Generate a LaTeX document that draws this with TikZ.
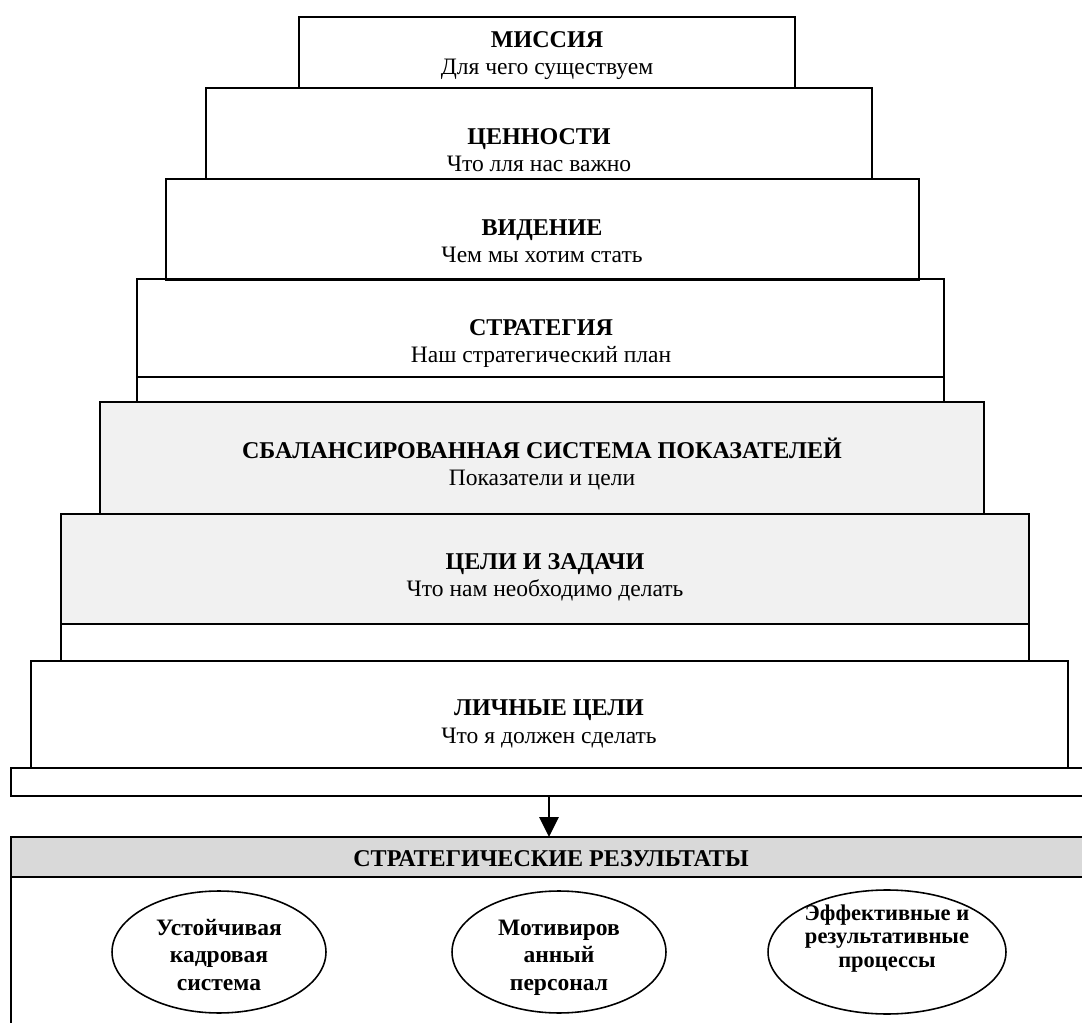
\documentclass[tikz,border=0pt]{standalone}
\usepackage{fontspec}
\setmainfont{Liberation Serif}
\usetikzlibrary{positioning,arrows.meta,shapes.geometric}
\definecolor{tiergray}{HTML}{F1F1F1}
\definecolor{headgray}{HTML}{D9D9D9}
\newcommand{\tiertitle}[1]{{\bfseries\fontsize{13.7}{15.4}\selectfont #1}}

\tikzset{
  tier/.style={draw, line width=1pt, anchor=north west, inner sep=0pt, outer sep=0pt},
  caption/.style={anchor=base, align=center, font=\fontsize{13.4}{15.4}\selectfont},
  result/.style={draw, ellipse, line width=0.9pt, inner sep=0pt},
  resulttxt/.style={anchor=base, align=center, font=\bfseries\fontsize{13.4}{15.4}\selectfont},
}

\begin{document}
\begin{tikzpicture}[x=0.02cm, y=-0.02cm]
    \clip (0,0) rectangle (1082,1023);

    % pyramid
    \node[tier, minimum width=9.92cm, minimum height=1.42cm] (mission) at (299,17) {};
    \node[tier, minimum width=13.32cm, minimum height=1.82cm] (values) at (206,88) {};
    \node[tier, minimum width=15.06cm, minimum height=2.02cm] (vision) at (166,179) {};
    \node[tier, minimum width=16.14cm, minimum height=1.96cm] (strategy) at (137,279) {};
    \node[tier, minimum width=16.14cm, minimum height=0.50cm] (stratstrip) at (137,377) {};
    \node[tier, fill=tiergray, minimum width=17.68cm, minimum height=2.24cm] (bsc) at (100,402) {};
    \node[tier, fill=tiergray, minimum width=19.36cm, minimum height=2.20cm] (goals) at (61,514) {};
    \node[tier, minimum width=19.36cm, minimum height=0.74cm] (goalstrip) at (61,624) {};
    \node[tier, minimum width=20.74cm, minimum height=2.14cm] (personal) at (31,661) {};
    \node[tier, minimum width=21.80cm, minimum height=0.56cm] (persstrip) at (11,768) {};

    \node[caption] (missiontxt) at (547,75) {\tiertitle{МИССИЯ}\\Для чего существуем};
    \node[caption] (valuestxt) at (539,172) {\tiertitle{ЦЕННОСТИ}\\Что лля нас важно};
    \node[caption] (visiontxt) at (542,263) {\tiertitle{ВИДЕНИЕ}\\Чем мы хотим стать};
    \node[caption] (strategytxt) at (541,363) {\tiertitle{СТРАТЕГИЯ}\\Наш стратегический план};
    \node[caption] (bsctxt) at (542,486) {\tiertitle{СБАЛАНСИРОВАННАЯ СИСТЕМА ПОКАЗАТЕЛЕЙ}\\Показатели и цели};
    \node[caption] (goalstxt) at (545,597) {\tiertitle{ЦЕЛИ И ЗАДАЧИ}\\Что нам необходимо делать};
    \node[caption] (personaltxt) at (549,743) {\tiertitle{ЛИЧНЫЕ ЦЕЛИ}\\Что я должен сделать};

    % results
    \node[tier, fill=headgray, minimum width=21.80cm, minimum height=0.80cm] (header) at (11,837) {};
    \node[tier, minimum width=21.80cm, minimum height=3.40cm] (results) at (11,877) {};
    \node[caption] (headertxt) at (551,866) {\tiertitle{СТРАТЕГИЧЕСКИЕ РЕЗУЛЬТАТЫ}};

    \node[result, minimum width=4.28cm, minimum height=2.44cm] (staff) at (219,952) {};
    \node[result, minimum width=4.28cm, minimum height=2.44cm] (people) at (559,952) {};
    \node[result, minimum width=4.76cm, minimum height=2.48cm] (process) at (887,952) {};
    \node[resulttxt] (stafftxt) at (219,990) {Устойчивая\\кадровая\\система};
    \node[resulttxt] (peopletxt) at (559,990) {Мотивиров\\анный\\персонал};
    \node[resulttxt, font=\bfseries\fontsize{12.8}{13.1}\selectfont] (processtxt) at (887,967)
      {Эффективные и\\результативные\\процессы};

    \coordinate (axis) at (549,0);
    \draw[line width=1.6pt, -{Triangle[width=0.38cm, length=0.40cm]}]
      (persstrip.south -| axis) -- (header.north -| axis);
\end{tikzpicture}
\end{document}
